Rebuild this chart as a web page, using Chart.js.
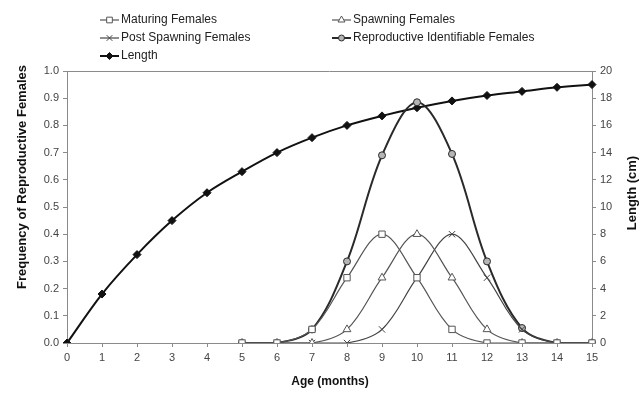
<!DOCTYPE html>
<html>
<head>
<meta charset="utf-8">
<script src="https://cdn.jsdelivr.net/npm/chart.js@4/dist/chart.umd.min.js"></script>
<style>
  html, body { margin: 0; padding: 0; background: #fff; }
  #wrap { width: 641px; height: 396px; }
</style>
</head>
<body>
<div id="wrap"><canvas id="mycanvas" width="641" height="396"></canvas></div>
<script>
// age in months
var ages = ['0','1','2','3','4','5','6','7','8','9','10','11','12','13','14','15'];

// frequency of reproductive females (left axis)
var maturing     = [null,null,null,null,null,0,0,0.05,0.24,0.40,0.24,0.05,0,0,0,0];
var spawning     = [null,null,null,null,null,0,0,0,0.05,0.24,0.40,0.24,0.05,0,0,0];
var postSpawning = [null,null,null,null,null,0,0,0,0,0.05,0.24,0.40,0.24,0.05,0,0];
var reproductive = [null,null,null,null,null,0,0,0.05,0.30,0.69,0.885,0.695,0.30,0.055,0,0];

// length in cm (right axis)
var lengthCm = [0,3.6,6.5,9.0,11.05,12.6,14.0,15.1,16.0,16.7,17.3,17.8,18.2,18.5,18.8,19.0];

var tickFont = { family: "'Liberation Sans', Arial, sans-serif", size: 11 };
var axisGrey = '#8a8a8a';

// legend placement, two columns like the original
var legendSlots = [
    { x: 100, y: 20 },   // maturing
    { x: 332, y: 20 },   // spawning
    { x: 100, y: 38 },   // post spawning
    { x: 332, y: 38 },   // reproductive
    { x: 100, y: 56 }    // length
];

var decorPlugin = {
    id: 'decor',
    afterDraw: function(chart) {
        var ctx = chart.ctx;
        var area = chart.chartArea;
        ctx.save();

        // top frame line
        ctx.strokeStyle = axisGrey;
        ctx.lineWidth = 1;
        ctx.beginPath();
        ctx.moveTo(area.left, area.top + 0.5);
        ctx.lineTo(area.right, area.top + 0.5);
        ctx.stroke();

        // legend
        ctx.font = "12px 'Liberation Sans', Arial, sans-serif";
        ctx.textBaseline = 'middle';
        ctx.textAlign = 'left';
        chart.data.datasets.forEach(function(ds, i) {
            var s = legendSlots[i];
            ctx.strokeStyle = ds.borderColor;
            ctx.lineWidth = ds.borderWidth;
            ctx.beginPath();
            ctx.moveTo(s.x, s.y);
            ctx.lineTo(s.x + 19, s.y);
            ctx.stroke();
            ctx.fillStyle = ds.pointBackgroundColor;
            ctx.strokeStyle = ds.pointBorderColor;
            ctx.lineWidth = 1;
            Chart.helpers.drawPoint(ctx, {
                pointStyle: ds.pointStyle, radius: ds.pointRadius - 0.5, rotation: 0, borderWidth: 1
            }, s.x + 9.5, s.y);
            ctx.fillStyle = '#222';
            ctx.fillText(ds.label, s.x + 21, s.y);
        });

        // axis titles
        ctx.fillStyle = '#111';
        ctx.font = "bold 13px 'Liberation Sans', Arial, sans-serif";
        ctx.textAlign = 'center';
        ctx.save();
        ctx.translate(22, 177);
        ctx.rotate(-Math.PI / 2);
        ctx.fillText('Frequency of Reproductive Females', 0, 0);
        ctx.restore();

        ctx.save();
        ctx.translate(632, 193);
        ctx.rotate(-Math.PI / 2);
        ctx.fillText('Length (cm)', 0, 0);
        ctx.restore();

        ctx.font = "bold 12px 'Liberation Sans', Arial, sans-serif";
        ctx.fillText('Age (months)', 330, 382);
        ctx.restore();
    }
};

function femaleSet(label, values, style, fill, border, width) {
    return {
        label: label,
        data: values,
        yAxisID: 'y',
        borderColor: border,
        borderWidth: width,
        pointStyle: style,
        pointRadius: style === 'circle' ? 3.5 : 4.5,
        pointBackgroundColor: fill,
        pointBorderColor: border,
        pointBorderWidth: 1,
        tension: 0.35,
        spanGaps: false
    };
}

var chartdata = {
    labels: ages,
    datasets: [
        femaleSet('Maturing Females', maturing, 'rect', '#fff', '#555', 1.2),
        femaleSet('Spawning Females', spawning, 'triangle', '#fff', '#555', 1.2),
        femaleSet('Post Spawning Females', postSpawning, 'crossRot', '#fff', '#444', 1.2),
        femaleSet('Reproductive Identifiable Females', reproductive, 'circle', '#b5b5b5', '#2a2a2a', 2),
        {
            label: 'Length',
            data: lengthCm,
            yAxisID: 'y2',
            borderColor: '#111',
            borderWidth: 2,
            pointStyle: 'rectRot',
            pointRadius: 4,
            pointBackgroundColor: '#111',
            pointBorderColor: '#111',
            pointBorderWidth: 1,
            tension: 0.35
        }
    ]
};

var ctx = document.getElementById('mycanvas');

var lineGraph = new Chart(ctx, {
    type: 'line',
    data: chartdata,
    plugins: [decorPlugin],
    options: {
        responsive: false,
        animation: false,
        layout: { padding: { top: 71, left: 0, right: 0, bottom: 0 } },
        plugins: {
            legend: { display: false },
            tooltip: { enabled: false }
        },
        scales: {
            x: {
                type: 'category',
                offset: false,
                grid: { display: true, drawOnChartArea: false, tickLength: 4, color: axisGrey },
                border: { color: axisGrey },
                ticks: { font: tickFont, color: '#444', padding: 4, autoSkip: false, maxRotation: 0 },
                afterFit: function(s) { s.height = 53; }
            },
            y: {
                position: 'left',
                min: 0, max: 1,
                grid: { display: true, drawOnChartArea: false, tickLength: 4, color: axisGrey },
                border: { color: axisGrey },
                ticks: {
                    stepSize: 0.1, font: tickFont, color: '#444', padding: 4,
                    callback: function(v) { return v.toFixed(1); }
                },
                afterFit: function(s) { s.width = 67; }
            },
            y2: {
                position: 'right',
                min: 0, max: 20,
                grid: { display: true, drawOnChartArea: false, tickLength: 4, color: axisGrey },
                border: { color: axisGrey },
                ticks: { stepSize: 2, font: tickFont, color: '#444', padding: 4 },
                afterFit: function(s) { s.width = 49; }
            }
        }
    }
});
</script>
</body>
</html>
